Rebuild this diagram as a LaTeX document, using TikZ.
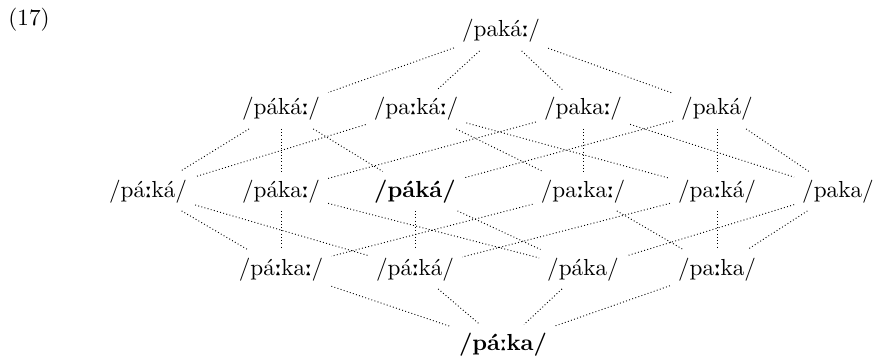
\documentclass[tikz,border=0pt]{standalone}
\usepackage{tipa}
\newcommand{\lng}{\textlengthmark}
\tikzset{
  form/.style={inner sep=3.3pt, anchor=base},
  link/.style={densely dotted, line width=0.4pt},
}
\begin{document}
\begin{tikzpicture}[x=0.431pt, y=-0.431pt]
\useasboundingbox (0,0) rectangle (882,358);

\node[inner sep=0pt, anchor=base west] (num) at (8,26) {(17)};

% top
\node[form] (t) at (501,37) {/paká\lng/};
% one step down
\node[form] (a) at (281,115) {/páká\lng/};
\node[form] (b) at (416,115) {/pa\lng ká\lng/};
\node[form] (c) at (583,115) {/paka\lng/};
\node[form] (d) at (717,115) {/paká/};
% two steps down
\node[form] (ab) at (148,197) {/pá\lng ká/};
\node[form] (ac) at (281,197) {/páka\lng/};
\node[form] (ad) at (415,197) {\textbf{/páká/}};
\node[form] (bc) at (583,197) {/pa\lng ka\lng/};
\node[form] (bd) at (717,197) {/pa\lng ká/};
\node[form] (cd) at (838,197) {/paka/};
% three steps down
\node[form] (abc) at (281,275) {/pá\lng ka\lng/};
\node[form] (abd) at (415,275) {/pá\lng ká/};
\node[form] (acd) at (583,275) {/páka/};
\node[form] (bcd) at (717,275) {/pa\lng ka/};
% bottom
\node[form] (z) at (503,350) {\textbf{/pá\lng ka/}};

\foreach \u/\v in {t/a, t/b, t/c, t/d,
  a/ab, a/ac, a/ad, b/ab, b/bc, b/bd,
  c/ac, c/bc, c/cd, d/ad, d/bd, d/cd,
  ab/abc, ab/abd, ac/abc, ac/acd, ad/abd, ad/acd,
  bc/abc, bc/bcd, bd/abd, bd/bcd, cd/acd, cd/bcd,
  abc/z, abd/z, acd/z, bcd/z}
  \draw[link] (\u) -- (\v);
\end{tikzpicture}
\end{document}
